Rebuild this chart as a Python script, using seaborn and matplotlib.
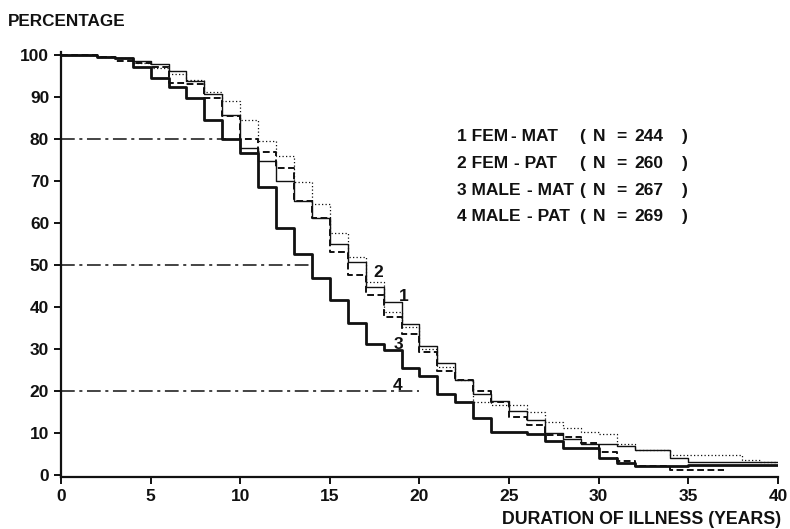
import numpy as np
import pandas as pd
import matplotlib
matplotlib.use("Agg")
import matplotlib.pyplot as plt
import seaborn as sns

# ---------------- data ----------------
years = list(range(0, 41))
years_fem_pat = list(range(0, 38))

# 3 MALE - MAT (thick solid)
male_mat = [100, 100, 99.5, 99.2, 97.2, 94.4, 92.3, 89.7, 84.5, 80.0,
            76.6, 68.6, 58.9, 52.6, 46.8, 41.6, 36.1, 31.1, 29.8, 25.4,
            23.5, 19.2, 17.3, 13.6, 10.3, 10.2, 9.8, 8.2, 6.5, 6.5,
            4.0, 2.9, 2.2, 2.2, 2.2, 2.3, 2.3, 2.3, 2.3, 2.3, 2.3]
# 1 FEM - MAT (thin solid)
fem_mat = [100, 100, 99.6, 99.3, 98.5, 97.9, 96.1, 93.9, 90.6, 85.7,
           77.8, 74.8, 70.1, 65.3, 61.1, 54.9, 50.8, 44.7, 41.1, 36.0,
           30.7, 26.7, 22.6, 19.4, 17.5, 15.2, 13.0, 10.0, 8.6, 7.3,
           7.3, 7.0, 5.9, 5.9, 4.0, 3.2, 3.2, 3.2, 3.2, 3.2, 3.2]
# 2 FEM - PAT (dashed)
fem_pat = [100, 100, 99.4, 98.6, 98.2, 97.2, 93.4, 93.1, 89.8, 85.5,
           80.0, 76.8, 73.2, 65.3, 61.1, 53.0, 47.5, 42.9, 37.7, 33.6,
           29.4, 24.8, 22.6, 20.0, 17.3, 13.9, 12.0, 9.5, 9.0, 7.7,
           5.5, 3.4, 2.2, 2.2, 1.2, 1.2, 1.2, 1.2]
# 4 MALE - PAT (dotted)
male_pat = [100, 100, 99.6, 99.3, 98.2, 96.9, 95.5, 94.0, 91.3, 89.0,
            84.6, 79.4, 76.0, 69.7, 64.4, 57.7, 52.0, 46.0, 38.9, 35.2,
            29.9, 25.6, 22.6, 17.3, 16.7, 16.7, 15.0, 12.7, 11.1, 10.3,
            9.7, 7.4, 5.95, 5.95, 4.8, 4.8, 4.8, 4.8, 3.6, 3.2, 3.2]

legend_groups = ["1 FEM", "2 FEM", "3 MALE", "4 MALE"]
legend_origin = ["- MAT", "- PAT", "- MAT", "- PAT"]
legend_n = ["244", "260", "267", "269"]

ref_levels = [80, 50, 20]
ref_ends = [9.2, 13.9, 20.0]

curve_labels = ["1", "2", "3", "4"]
label_x = [19.1, 17.7, 18.8, 18.8]
label_y = [42.4, 48.1, 31.0, 21.4]

x_ticks = list(range(0, 41, 5))
y_ticks = list(range(0, 101, 10))

# ---------------- style ----------------
sns.set_style("ticks")
plt.rcParams["font.family"] = ["Liberation Sans", "DejaVu Sans"]
plt.rcParams["axes.linewidth"] = 1.6

W, H = 790, 529
fig = plt.figure(figsize=(W / 100, H / 100), dpi=100)
ax = fig.add_axes([61 / W, 1 - 477.1 / H, (778 - 61) / W, 425.5 / H])

ink = "#111111"

sns.lineplot(x=years, y=male_mat, ax=ax, drawstyle="steps-post",
             color=ink, linewidth=2.0, errorbar=None)
sns.lineplot(x=years, y=fem_mat, ax=ax, drawstyle="steps-post",
             color=ink, linewidth=1.0, errorbar=None)
sns.lineplot(x=years_fem_pat, y=fem_pat, ax=ax, drawstyle="steps-post",
             color=ink, linewidth=1.4, linestyle=(0, (3.5, 1.8)), errorbar=None)
sns.lineplot(x=years, y=male_pat, ax=ax, drawstyle="steps-post",
             color=ink, linewidth=0.9, linestyle=(0, (1.0, 1.8)), errorbar=None)

for lvl, end in zip(ref_levels, ref_ends):
    ax.plot([0, end], [lvl, lvl], color=ink, linewidth=1.1,
            linestyle=(0, (9, 3, 2, 3)))

for t, lx, ly in zip(curve_labels, label_x, label_y):
    ax.text(lx, ly, t, fontsize=12.5, fontweight="bold", ha="center",
            va="center", color=ink)

ax.set_xlim(0, 40)
ax.set_ylim(-0.5, 100.8)
ax.set_xticks(x_ticks)
ax.set_yticks(y_ticks)
ax.tick_params(axis="both", direction="out", length=5, width=1.4,
               labelsize=12.5, colors=ink)
for lab in ax.get_xticklabels() + ax.get_yticklabels():
    lab.set_fontweight("bold")
ax.set_xlabel("")
ax.set_ylabel("")
sns.despine(ax=ax)
for s in ["left", "bottom"]:
    ax.spines[s].set_color(ink)

fig.text(8 / W, 1 - 21 / H, "PERCENTAGE", fontsize=12.3, fontweight="bold",
         ha="left", va="center", color=ink)
fig.text(781 / W, 1 - 520 / H, "DURATION OF ILLNESS (YEARS)", fontsize=12.8,
         fontweight="bold", ha="right", va="center", color=ink)

origin_x = [511, 514, 527, 527]
for i in range(4):
    yy = 1 - (136.7 + i * 26.7) / H
    kw = dict(fontsize=12.5, fontweight="bold", va="center", color=ink)
    fig.text(457 / W, yy, legend_groups[i], ha="left", **kw)
    fig.text(origin_x[i] / W, yy, legend_origin[i], ha="left", **kw)
    fig.text(579 / W, yy, "(", ha="left", **kw)
    fig.text(593 / W, yy, "N", ha="left", **kw)
    fig.text(616 / W, yy, "=", ha="left", **kw)
    fig.text(634 / W, yy, legend_n[i], ha="left", **kw)
    fig.text(688 / W, yy, ")", ha="right", **kw)

fig.savefig("out.png", dpi=100)
